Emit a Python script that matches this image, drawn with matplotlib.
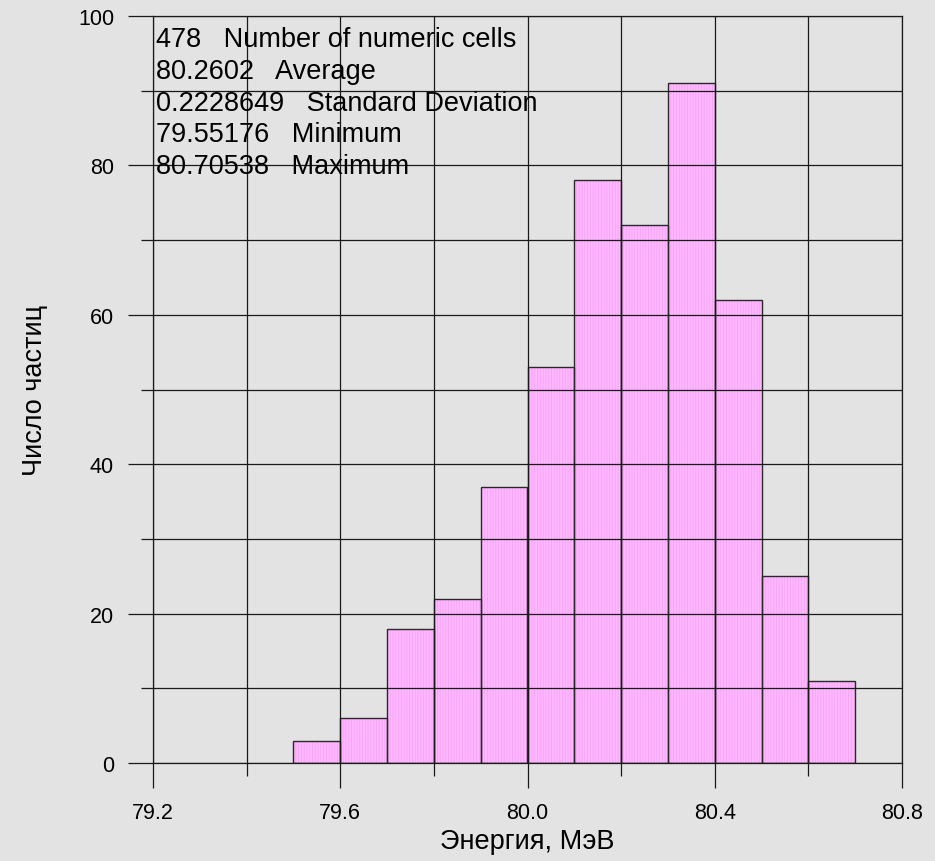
import matplotlib.pyplot as plt
from matplotlib.ticker import MultipleLocator, FormatStrFormatter

plt.rcParams['font.family'] = ['Liberation Sans', 'DejaVu Sans']
plt.rcParams['hatch.linewidth'] = 0.6

# histogram of particle energies, bin width 0.1 MeV
bin_left = [79.5, 79.6, 79.7, 79.8, 79.9, 80.0, 80.1, 80.2, 80.3, 80.4, 80.5, 80.6]
counts = [3, 6, 18, 22, 37, 53, 78, 72, 91, 62, 25, 11]
bin_width = 0.1

stats_values = ['478', '80.2602', '0.2228649', '79.55176', '80.70538']
stats_names = ['Number of numeric cells', 'Average', 'Standard Deviation', 'Minimum', 'Maximum']

bg = '#e3e3e3'
fig = plt.figure(figsize=(9.35, 8.62), dpi=100, facecolor=bg)
ax = fig.add_axes([153 / 935, 1 - 764 / 862, 749 / 935, 747 / 862])
ax.set_facecolor(bg)

ax.bar(bin_left, counts, width=bin_width, align='edge', color='#ffb8ff',
       linewidth=0, zorder=1)
# fine vertical stripes inside the bars
ax.bar(bin_left, counts, width=bin_width, align='edge', color='none',
       edgecolor='#f4a4f4', linewidth=0, hatch='||||||', zorder=1.1)
ax.bar(bin_left, counts, width=bin_width, align='edge', color='none',
       edgecolor='#2a2a2a', linewidth=1.0, zorder=1.2)

ax.set_xlim(79.2, 80.8)
ax.set_ylim(0, 100)
ax.xaxis.set_major_locator(MultipleLocator(0.4))
ax.xaxis.set_minor_locator(MultipleLocator(0.2))
ax.xaxis.set_major_formatter(FormatStrFormatter('%.1f'))
ax.yaxis.set_major_locator(MultipleLocator(20))
ax.yaxis.set_minor_locator(MultipleLocator(10))

ax.set_axisbelow(False)
ax.grid(True, which='both', color='#1a1a1a', linewidth=0.9)
ax.tick_params(which='major', direction='out', length=18, width=0.9, color='#1a1a1a',
               labelsize=15.5, pad=10)
ax.tick_params(which='minor', direction='out', length=9, width=0.9, color='#1a1a1a')
for s in ax.spines.values():
    s.set_color('#1a1a1a')
    s.set_linewidth(0.9)

ax.set_xlabel('Энергия, МэВ', fontsize=19.5)
ax.set_ylabel('Число частиц', fontsize=19.5)
ax.xaxis.set_label_coords(0.5, -0.087)
ax.yaxis.set_label_coords(-0.140, 0.5)

lines = [v + '   ' + n for v, n in zip(stats_values, stats_names)]
ax.annotate('\n'.join(lines), xy=(0, 1), xycoords='axes fraction',
            xytext=(2.5, -7.2), textcoords='offset points', ha='left', va='top',
            fontsize=19.5, linespacing=1.29, zorder=5)

fig.savefig('out.png', dpi=100, facecolor=bg)
